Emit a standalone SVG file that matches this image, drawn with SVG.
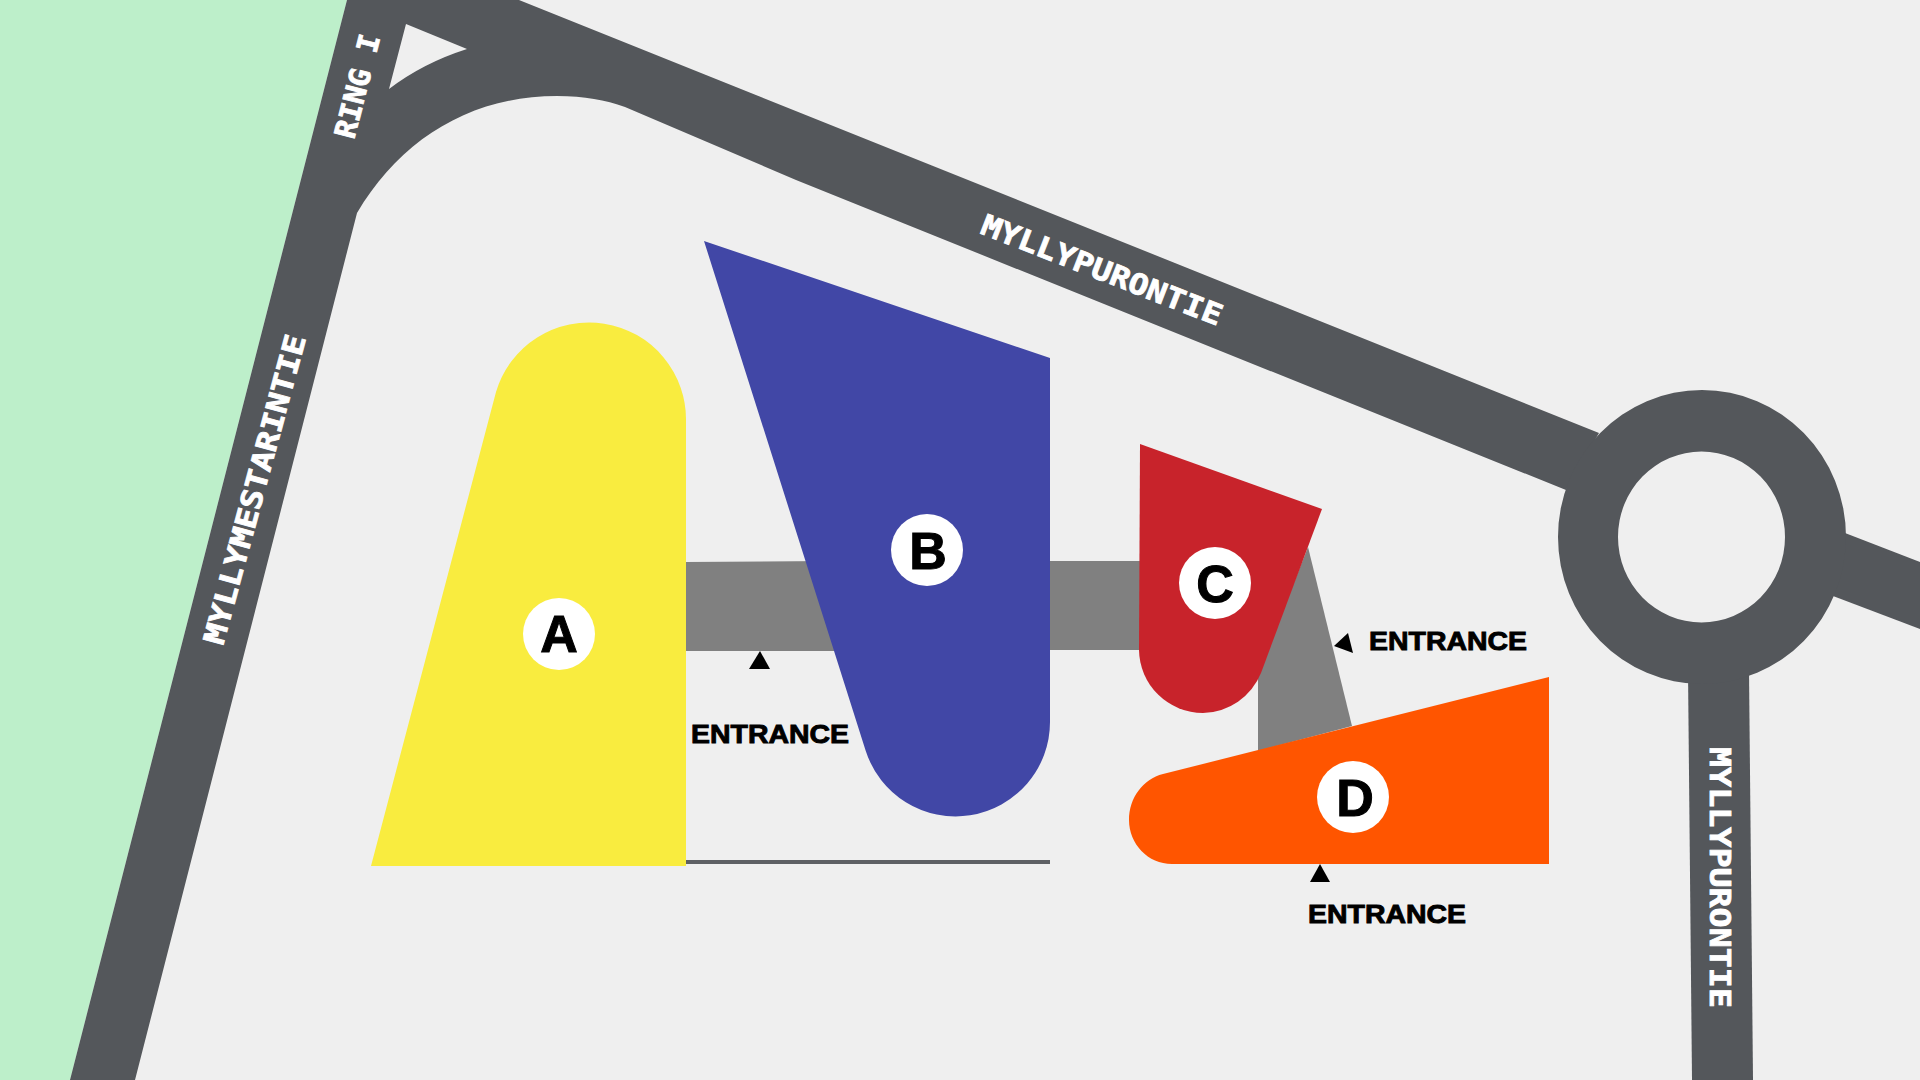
<svg xmlns="http://www.w3.org/2000/svg" width="1920" height="1080" viewBox="0 0 1920 1080">
<style>
.road{fill:#54575b}
.band{fill:#808080}
.badge{fill:#fff}
.letter{font-family:"Liberation Sans",Arial,sans-serif;font-weight:700;font-size:52px;fill:#000;stroke:#000;stroke-width:1;text-anchor:middle}
.ent{font-family:"Liberation Sans",Arial,sans-serif;font-weight:700;font-size:26px;fill:#000;stroke:#000;stroke-width:.9}
.rl{font-family:"DejaVu Sans Mono","Liberation Mono",monospace;font-weight:700;font-size:29px;fill:#fff;stroke:#fff;stroke-width:.8}
.arrow{fill:#000}
</style>
<rect width="1920" height="1080" fill="#efefef"/>
<polygon points="0,0 347,0 70,1080 0,1080" fill="#bdefca"/>
<g id="roads">
<path class="road" d="M347,0 L519,0 L706,75 L1599,433 L1566,490 L796,180 L625,107 C605,100 585,96 557,96 C470,96 400,140 357,213 L135,1080 L70,1080 Z"/>
<path class="road" d="M1845,533 L1920,562 L1920,629 L1833,596 Z"/>
<path class="road" d="M1688,670 L1749,670 L1753,1080 L1692,1080 Z"/>
<path class="road" fill-rule="evenodd" d="M1558,537 A144,147 0 1 1 1846,537 A144,147 0 1 1 1558,537 Z M1618,537 A83.5,85.5 0 1 0 1785,537 A83.5,85.5 0 1 0 1618,537 Z"/>
<path fill="#efefef" d="M406,24 L467,49 Q423,63 389,89 Z"/>
<rect x="686" y="860" width="364" height="4" fill="#5e6064"/>
</g>
<g id="bands">
<polygon class="band" points="686,562 830,561 860,651 686,651"/>
<polygon class="band" points="1050,561 1145,561 1145,650 1050,650"/>
<polygon class="band" points="1308,547 1352,726 1258,751 1258,673"/>
</g>
<g id="node-a">
<path fill="#f9ec3f" d="M371,866 L496,392 A97,97 0 0 1 686,422 L686,866 Z"/>
<circle class="badge" cx="559" cy="634" r="36"/>
<text class="letter" x="559" y="652">A</text>
</g>
<g id="node-b">
<path fill="#4147a6" d="M704,241 L1050,358 L1050,722 A94.4,94.4 0 0 1 865.6,750.5 Z"/>
<circle class="badge" cx="927" cy="550" r="36"/>
<text class="letter" x="928" y="569">B</text>
</g>
<g id="node-c">
<path fill="#c8232b" d="M1140,444 L1322,509 L1261,673 A64,64 0 0 1 1203,713 A64,64 0 0 1 1139,650 Z"/>
<circle class="badge" cx="1215" cy="583" r="36"/>
<text class="letter" x="1215" y="602">C</text>
</g>
<g id="node-d">
<path fill="#ff5500" d="M1549,677 L1549,864 L1172,864 C1148,864 1129,844 1129,820 C1129,798 1143,779 1163,774 Z"/>
<circle class="badge" cx="1353" cy="797" r="36"/>
<text class="letter" x="1355" y="816">D</text>
</g>
<g id="entrances">
<polygon class="arrow" points="749,669 770,669 760,651"/>
<polygon class="arrow" points="1310,882 1330,882 1320,864"/>
<polygon class="arrow" points="1334,646 1348,633 1353,653"/>
<text class="ent" x="691" y="743" textLength="158" lengthAdjust="spacingAndGlyphs">ENTRANCE</text>
<text class="ent" x="1369" y="650" textLength="158" lengthAdjust="spacingAndGlyphs">ENTRANCE</text>
<text class="ent" x="1308" y="923" textLength="158" lengthAdjust="spacingAndGlyphs">ENTRANCE</text>
</g>
<g id="road-labels">
<text class="rl" transform="translate(223,646) rotate(-74.9)" textLength="319" lengthAdjust="spacingAndGlyphs">MYLLYMESTARINTIE</text>
<text class="rl" transform="translate(354,140) rotate(-75.6)" textLength="106" lengthAdjust="spacingAndGlyphs">RING I</text>
<text class="rl" transform="translate(979,233) rotate(21.3)" textLength="256" lengthAdjust="spacingAndGlyphs">MYLLYPURONTIE</text>
<text class="rl" transform="translate(1710,747) rotate(90)" textLength="261" lengthAdjust="spacingAndGlyphs">MYLLYPURONTIE</text>
</g>
</svg>
